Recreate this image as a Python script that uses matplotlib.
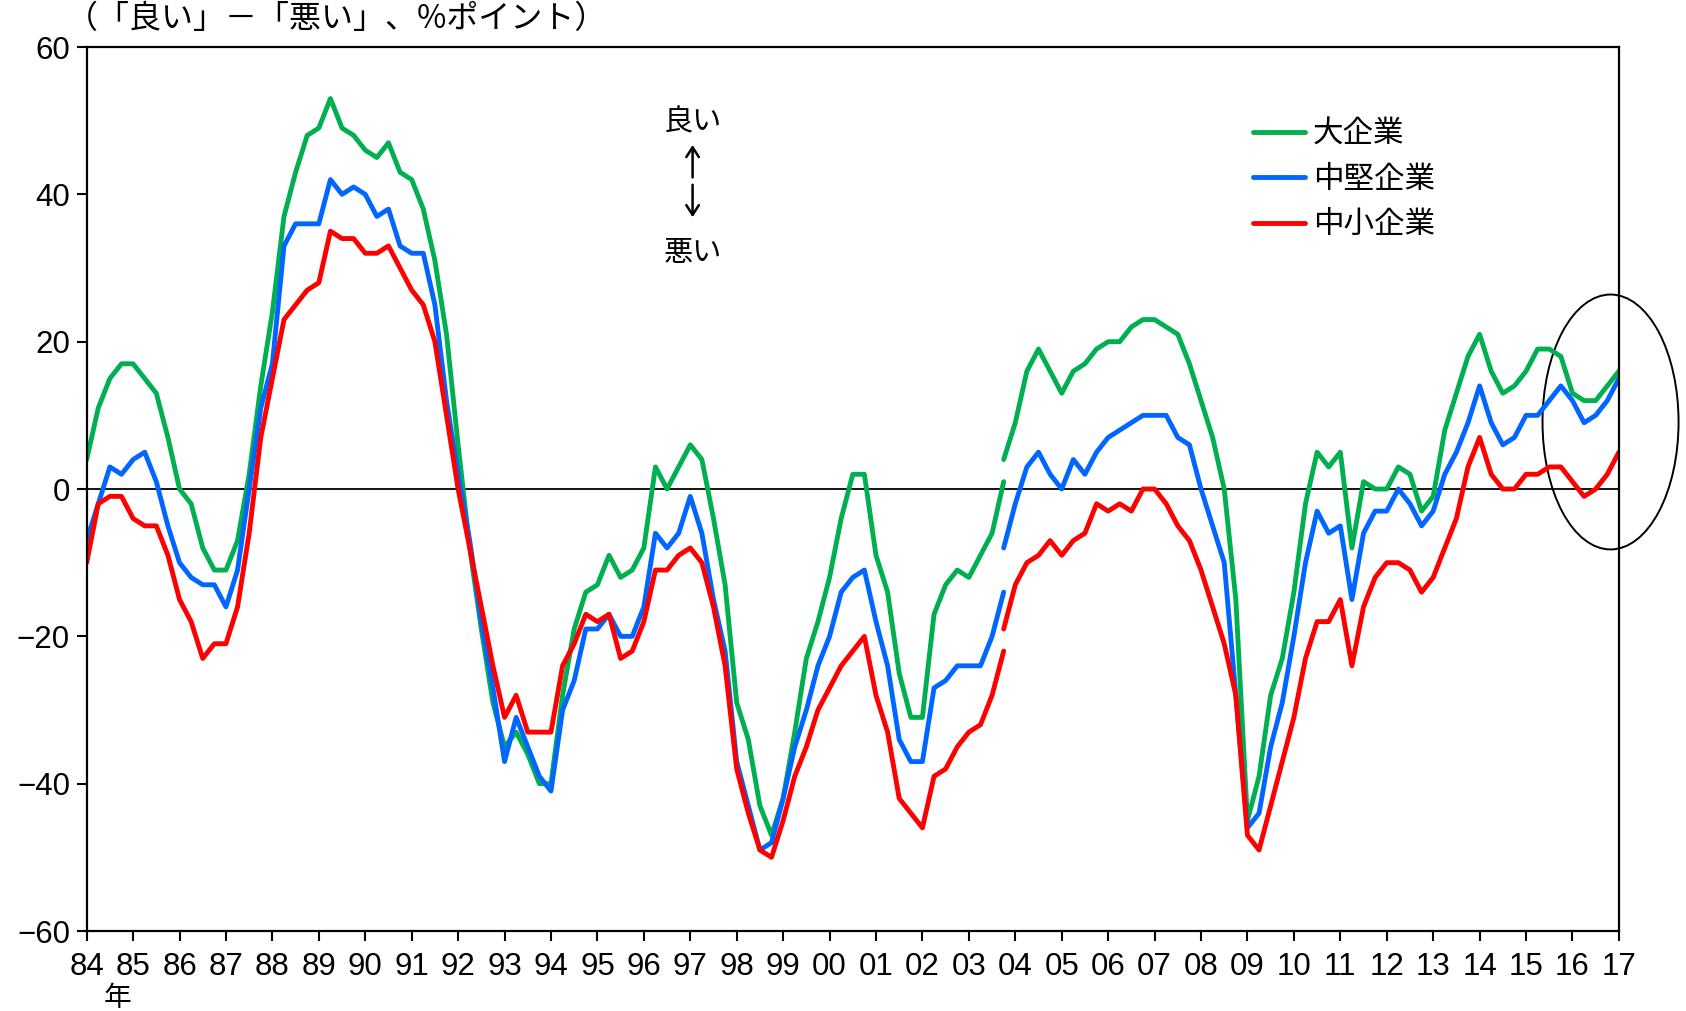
import matplotlib
matplotlib.use("Agg")
import matplotlib.pyplot as plt
from matplotlib.patches import Ellipse
import numpy as np

plt.rcParams['font.family'] = ['Noto Sans CJK JP', 'DejaVu Sans']

# quarterly DI, old basis (84Q1 - 03Q4) and new basis (03Q4 - 17Q1)
large_old = [4, 11, 15, 17, 17, 15, 13, 7, 0, -2, -8, -11, -11, -7, 2, 14,
             24, 37, 43, 48, 49, 53, 49, 48, 46, 45, 47, 43, 42, 38, 31, 21,
             6, -8, -19, -29, -35, -33, -36, -40, -40, -28, -19, -14, -13, -9, -12, -11,
             -8, 3, 0, 3, 6, 4, -4, -13, -29, -34, -43, -47, -42, -33, -23, -18,
             -12, -4, 2, 2, -9, -14, -25, -31, -31, -17, -13, -11, -12, -9, -6, 1]
mid_old = [-7, -2, 3, 2, 4, 5, 1, -5, -10, -12, -13, -13, -16, -11, 0, 11,
           17, 33, 36, 36, 36, 42, 40, 41, 40, 37, 38, 33, 32, 32, 25, 12,
           2, -7, -18, -27, -37, -31, -35, -39, -41, -30, -26, -19, -19, -17, -20, -20,
           -16, -6, -8, -6, -1, -6, -15, -22, -37, -43, -49, -48, -42, -35, -30, -24,
           -20, -14, -12, -11, -18, -24, -34, -37, -37, -27, -26, -24, -24, -24, -20, -14]
small_old = [-10, -2, -1, -1, -4, -5, -5, -9, -15, -18, -23, -21, -21, -16, -6, 7,
             15, 23, 25, 27, 28, 35, 34, 34, 32, 32, 33, 30, 27, 25, 20, 10,
             0, -8, -16, -24, -31, -28, -33, -33, -33, -24, -21, -17, -18, -17, -23, -22,
             -18, -11, -11, -9, -8, -10, -16, -24, -38, -44, -49, -50, -45, -39, -35, -30,
             -27, -24, -22, -20, -28, -33, -42, -44, -46, -39, -38, -35, -33, -32, -28, -22]

large_new = [4, 9, 16, 19, 16, 13, 16, 17, 19, 20, 20, 22, 23, 23, 22, 21, 17,
             12, 7, 0, -15, -45, -39, -28, -23, -14, -2, 5, 3, 5, -8, 1, 0,
             0, 3, 2, -3, -1, 8, 13, 18, 21, 16, 13, 14, 16, 19, 19, 18,
             13, 12, 12, 14, 16]
mid_new = [-8, -2, 3, 5, 2, 0, 4, 2, 5, 7, 8, 9, 10, 10, 10, 7, 6,
           0, -5, -10, -28, -46, -44, -35, -29, -20, -10, -3, -6, -5, -15, -6, -3,
           -3, 0, -2, -5, -3, 2, 5, 9, 14, 9, 6, 7, 10, 10, 12, 14,
           12, 9, 10, 12, 15]
small_new = [-19, -13, -10, -9, -7, -9, -7, -6, -2, -3, -2, -3, 0, 0, -2, -5, -7,
             -11, -16, -21, -28, -47, -49, -43, -37, -31, -23, -18, -18, -15, -24, -16, -12,
             -10, -10, -11, -14, -12, -8, -4, 3, 7, 2, 0, 0, 2, 2, 3, 3,
             1, -1, 0, 2, 5]

t_old = 1984 + 0.25 * np.arange(len(large_old))
t_new = 2003.75 + 0.25 * np.arange(len(large_new))

years = np.arange(1984, 2018)
year_labels = ['%02d' % (y % 100) for y in years]

series = [('大企業', large_old, large_new, '#00B050'),
          ('中堅企業', mid_old, mid_new, '#0066FF'),
          ('中小企業', small_old, small_new, '#FF0000')]

fig = plt.figure(figsize=(16.86, 10.11), dpi=100)
ax = fig.add_axes([0.0514, 0.0791, 0.9088, 0.8744])

for name, old, new, col in series:
    ax.plot(t_old, old, color=col, lw=3.5, label=name, solid_capstyle='round')
    ax.plot(t_new, new, color=col, lw=3.5, solid_capstyle='round')

ax.axhline(0, color='black', lw=1.3, zorder=1)

ax.set_xlim(1984, 2017)
ax.set_ylim(-60, 60)
ax.set_xticks(years)
ax.set_xticklabels(year_labels)
ax.set_yticks(np.arange(-60, 61, 20))

tickfont = ['Liberation Sans Narrow', 'Liberation Sans', 'DejaVu Sans']
for lab in ax.get_xticklabels() + ax.get_yticklabels():
    lab.set_family(tickfont)
    lab.set_fontsize(22.5)
ax.tick_params(axis='both', direction='out', length=7, width=1.5, color='black')
ax.tick_params(axis='x', pad=8)
ax.tick_params(axis='y', pad=5)
for sp in ax.spines.values():
    sp.set_linewidth(1.6)

# circle around latest quarters
ell = Ellipse((2016.82, 9.1), 2.93, 34.6, fill=False, edgecolor='black',
              lw=1.4, clip_on=False)
ax.add_patch(ell)

# good / bad indicator
ax.text(1997.05, 49.8, '良い', fontsize=21, ha='center', va='center')
arr = dict(arrowstyle='->,head_length=0.7,head_width=0.45', lw=1.8,
           color='black', shrinkA=0, shrinkB=0)
ax.annotate('', xy=(1997.05, 46.7), xytext=(1997.05, 42.3), arrowprops=arr)
ax.annotate('', xy=(1997.05, 36.9), xytext=(1997.05, 41.3), arrowprops=arr)
ax.text(1997.05, 32.0, '悪い', fontsize=21, ha='center', va='center')

ax.legend(loc='upper left', bbox_to_anchor=(0.761, 0.919), frameon=False,
          fontsize=22, handlelength=1.7, handletextpad=0.26, labelspacing=0.47,
          borderpad=0, borderaxespad=0)

fig.text(0.039, 0.981, '（「良い」－「悪い」、%ポイント）', fontsize=23, ha='left', va='center')
fig.text(0.070, 0.0125, '年', fontsize=20, ha='center', va='center')

fig.savefig('out.png', dpi=100)
